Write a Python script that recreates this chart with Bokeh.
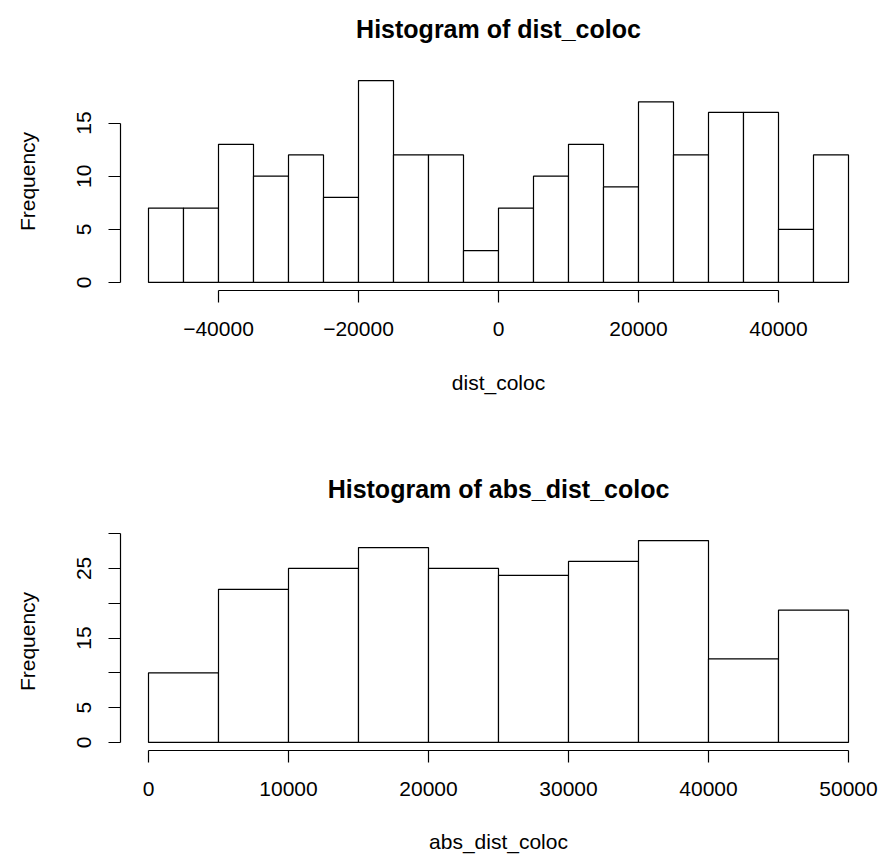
from bokeh.plotting import figure
from bokeh.models import Range1d, FixedTicker, ColumnDataSource, Label
from bokeh.layouts import column
from bokeh.embed import file_html
from bokeh.resources import INLINE

FONT = "Liberation Sans"

# ---- data: histogram of dist_coloc ----
dist_breaks = [-50000, -45000, -40000, -35000, -30000, -25000, -20000, -15000, -10000, -5000, 0,
               5000, 10000, 15000, 20000, 25000, 30000, 35000, 40000, 45000, 50000]
dist_counts = [7, 7, 13, 10, 12, 8, 19, 12, 12, 3, 7, 10, 13, 9, 17, 12, 16, 16, 5, 12]
dist_xticks = [-40000, -20000, 0, 20000, 40000]
dist_xtick_labels = ["\u221240000", "\u221220000", "0", "20000", "40000"]
dist_yticks = [0, 5, 10, 15]
dist_ytick_labels = ["0", "5", "10", "15"]

# ---- data: histogram of abs_dist_coloc ----
abs_breaks = [0, 5000, 10000, 15000, 20000, 25000, 30000, 35000, 40000, 45000, 50000]
abs_counts = [10, 22, 25, 28, 25, 24, 26, 29, 12, 19]
abs_xticks = [0, 10000, 20000, 30000, 40000, 50000]
abs_xtick_labels = ["0", "10000", "20000", "30000", "40000", "50000"]
abs_yticks = [0, 5, 10, 15, 20, 25, 30]
abs_ytick_labels = ["0", "5", "", "15", "", "25", ""]

FRAME_W = 756      # plotting-region width (px)
PLOT_H = 218       # height of the data region
TITLE_H = 72       # height of the strip holding the main title


def title_strip(title):
    t = figure(frame_width=FRAME_W, frame_height=TITLE_H,
               min_border_left=120, min_border_right=12,
               min_border_top=0, min_border_bottom=0,
               x_range=Range1d(0, 1), y_range=Range1d(0, 1),
               x_axis_location=None, y_axis_location=None,
               output_backend="svg", toolbar_location=None)
    t.grid.visible = False
    t.outline_line_color = None
    t.background_fill_color = "white"
    t.border_fill_color = "white"
    t.add_layout(Label(x=FRAME_W / 2, y=TITLE_H - 28, x_units="screen", y_units="screen",
                       text=title, text_align="center", text_baseline="alphabetic",
                       text_font=FONT, text_font_size="25px", text_font_style="bold",
                       text_color="black"))
    return t


def panel(breaks, counts, xticks, xlabels, yticks, ylabels, xlab,
          bottom_border, xlab_standoff):
    span = breaks[-1] - breaks[0]
    ymax = max(counts)
    p = figure(frame_width=FRAME_W, frame_height=PLOT_H,
               min_border_left=120, min_border_right=12,
               min_border_top=0, min_border_bottom=bottom_border,
               x_range=Range1d(breaks[0] - 0.04 * span, breaks[-1] + 0.04 * span),
               y_range=Range1d(-0.04 * ymax, 1.04 * ymax),
               output_backend="svg", toolbar_location=None)
    src = ColumnDataSource(dict(left=breaks[:-1], right=breaks[1:], top=counts,
                                bottom=[0] * len(counts)))
    p.quad(left="left", right="right", top="top", bottom="bottom", source=src,
           fill_color="white", line_color="black", line_width=1.2)
    p.grid.visible = False
    p.outline_line_color = None
    p.background_fill_color = "white"
    p.border_fill_color = "white"

    for ax in (p.xaxis[0], p.yaxis[0]):
        ax.axis_line_color = "black"
        ax.axis_line_width = 1.2
        ax.major_tick_line_color = "black"
        ax.major_tick_line_width = 1.2
        ax.major_tick_in = 0
        ax.major_tick_out = 12
        ax.minor_tick_line_color = None
        ax.major_label_text_font = FONT
        ax.major_label_text_font_size = "21px"
        ax.major_label_text_color = "black"
        ax.axis_label_text_font = FONT
        ax.axis_label_text_font_size = "21px"
        ax.axis_label_text_font_style = "normal"
        ax.axis_label_text_color = "black"

    xa = p.xaxis[0]
    xa.ticker = FixedTicker(ticks=xticks)
    xa.bounds = (xticks[0], xticks[-1])
    xa.major_label_overrides = dict(zip(xticks, xlabels))
    xa.major_label_standoff = 19
    xa.axis_label = xlab
    xa.axis_label_standoff = xlab_standoff

    ya = p.yaxis[0]
    ya.ticker = FixedTicker(ticks=yticks)
    ya.bounds = (yticks[0], yticks[-1])
    ya.major_label_overrides = dict(zip(yticks, ylabels))
    ya.major_label_orientation = "vertical"
    ya.major_label_standoff = 17
    ya.axis_label = "Frequency"
    ya.axis_label_standoff = 36
    return p


t1 = title_strip("Histogram of dist_coloc")
p1 = panel(dist_breaks, dist_counts, dist_xticks, dist_xtick_labels, dist_yticks,
           dist_ytick_labels, "dist_coloc", bottom_border=170, xlab_standoff=32)
t2 = title_strip("Histogram of abs_dist_coloc")
p2 = panel(abs_breaks, abs_counts, abs_xticks, abs_xtick_labels, abs_yticks,
           abs_ytick_labels, "abs_dist_coloc", bottom_border=104, xlab_standoff=31)

layout = column(t1, p1, t2, p2, spacing=0)
open("out.html", "w").write(file_html(layout, INLINE))
